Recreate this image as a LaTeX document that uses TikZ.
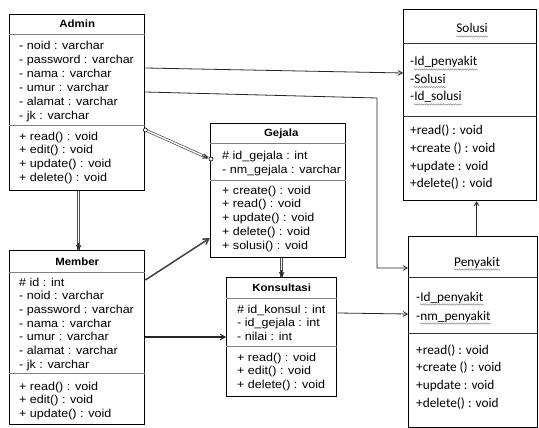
\documentclass[tikz,border=0pt]{standalone}
\usepackage{fontspec}
\setmainfont[FakeStretch=1.09]{Liberation Sans}
\newfontfamily\calibri{Carlito}
\usetikzlibrary{arrows}
\usetikzlibrary{calc}
\usetikzlibrary{decorations.pathmorphing}

\begin{document}
\begin{tikzpicture}[x=1pt,y=-1pt,
  umlbox/.style={draw,line width=1.4pt,anchor=north west,inner sep=0pt},
  rbox/.style={draw,line width=1.2pt,anchor=north west,inner sep=0pt},
  sepline/.style={black!50,line width=0.9pt},
  rsep/.style={black!80,line width=0.9pt},
  ctitle/.style={anchor=base,inner sep=0pt,font=\bfseries\fontsize{10.5}{13}\selectfont},
  cattr/.style={anchor=base west,inner sep=0pt,font=\fontsize{11.5}{13.8}\selectfont},
  rtitle/.style={anchor=base,inner sep=0pt,font=\calibri\fontsize{13.3}{16}\selectfont},
  rattr/.style={anchor=base west,inner sep=0pt,font=\calibri\fontsize{13.3}{16}\selectfont},
  squig/.style={black!45,line width=0.5pt,decorate,
    decoration={snake,amplitude=0.7pt,segment length=2.4pt}},
  conn/.style={->,>=angle 60,black!85,line width=0.8pt},
  dbl/.style={double,double distance=1.4pt,line width=0.7pt,draw=black!70},
  knob/.style={draw,fill=white,line width=0.6pt}]
\useasboundingbox (0,0) rectangle (539,428);

% Admin
\node[umlbox,minimum width=135pt,minimum height=176pt] (admin) at (9,14) {};
\node[ctitle] (admint) at ($(admin.north)+(0,14)$) {Admin};
\draw[sepline] ($(admin.north west)+(0,20)$) -- ($(admin.north east)+(0,20)$);
\draw[sepline] ($(admin.north west)+(0,111)$) -- ($(admin.north east)+(0,111)$);
\foreach \t [count=\i from 0] in {- noid : varchar, - password : varchar,
  - nama : varchar, - umur : varchar, - alamat : varchar, - jk : varchar} {
  \node[cattr] (adma\i) at (19,{50+14*\i}) {\t};
}
\foreach \t [count=\i from 0] in {+ read() : void, + edit() : void,
  + update() : void, + delete() : void} {
  \node[cattr] (admm\i) at (19,{140+13.7*\i}) {\t};
}

% Member
\node[umlbox,minimum width=135pt,minimum height=174pt] (member) at (9,250) {};
\node[ctitle] (membert) at ($(member.north)+(0,15)$) {Member};
\draw[sepline] ($(member.north west)+(0,22)$) -- ($(member.north east)+(0,22)$);
\draw[sepline] ($(member.north west)+(0,123)$) -- ($(member.north east)+(0,123)$);
\foreach \t [count=\i from 0] in {\# id : int, - noid : varchar, - password : varchar,
  - nama : varchar, - umur : varchar, - alamat : varchar, - jk : varchar} {
  \node[cattr] (mema\i) at (19,{286+13.67*\i}) {\t};
}
\foreach \t [count=\i from 0] in {+ read() : void, + edit() : void, + update() : void} {
  \node[cattr] (memm\i) at (19,{390+13.5*\i}) {\t};
}

% Gejala
\node[umlbox,minimum width=135pt,minimum height=134pt] (gejala) at (210,123) {};
\node[ctitle] (gejalat) at ($(gejala.north)+(3,14)$) {Gejala};
\draw[sepline] ($(gejala.north west)+(0,20)$) -- ($(gejala.north east)+(0,20)$);
\draw[sepline] ($(gejala.north west)+(0,57)$) -- ($(gejala.north east)+(0,57)$);
\foreach \t [count=\i from 0] in {\# id\_gejala : int, - nm\_gejala : varchar} {
  \node[cattr] (gja\i) at (222,{160+14*\i}) {\t};
}
\foreach \t [count=\i from 0] in {+ create() : void, + read() : void,
  + update() : void, + delete() : void, + solusi() : void} {
  \node[cattr] (gjm\i) at (222,{194+13.75*\i}) {\t};
}

% Konsultasi
\node[umlbox,minimum width=110pt,minimum height=119pt] (konsul) at (226,277) {};
\node[ctitle] (konsult) at ($(konsul.north)+(0,14.5)$) {Konsultasi};
\draw[sepline] ($(konsul.north west)+(0,21)$) -- ($(konsul.north east)+(0,21)$);
\draw[sepline] ($(konsul.north west)+(0,69)$) -- ($(konsul.north east)+(0,69)$);
\foreach \t [count=\i from 0] in {\# id\_konsul : int, - id\_gejala : int, - nilai : int} {
  \node[cattr] (ksa\i) at (237,{313+13.5*\i}) {\t};
}
\foreach \t [count=\i from 0] in {+ read() : void, + edit() : void, + delete() : void} {
  \node[cattr] (ksm\i) at (237,{361+13.5*\i}) {\t};
}

% Solusi
\node[rbox,minimum width=133pt,minimum height=191pt] (solusi) at (403,9) {};
\node[rtitle] (solusit) at ($(solusi.north)+(2,24)$) {Solusi};
\draw[rsep] ($(solusi.north west)+(0,34)$) -- ($(solusi.north east)+(0,34)$);
\draw[rsep] ($(solusi.north west)+(0,107)$) -- ($(solusi.north east)+(0,107)$);
\node[rattr] (sla0) at (410,66) {-Id\_penyakit};
\node[rattr] (sla1) at (410,83.5) {-Solusi};
\node[rattr] (sla2) at (410,101) {-Id\_solusi};
\foreach \t [count=\i from 0] in {+read() : void, +create () : void,
  +update : void, +delete() : void} {
  \node[rattr] (slm\i) at (410,{135+17.6*\i}) {\t};
}

% Penyakit
\node[rbox,minimum width=129pt,minimum height=191pt] (penyakit) at (408,236) {};
\node[rtitle] (penyakitt) at ($(penyakit.north)+(4,30)$) {Penyakit};
\draw[rsep] ($(penyakit.north west)+(0,41)$) -- ($(penyakit.north east)+(0,41)$);
\draw[rsep] ($(penyakit.north west)+(0,97)$) -- ($(penyakit.north east)+(0,97)$);
\node[rattr] (pya0) at (416,301) {-Id\_penyakit};
\node[rattr] (pya1) at (416,320) {-nm\_penyakit};
\foreach \t [count=\i from 0] in {+read() : void, +create () : void,
  +update : void, +delete() : void} {
  \node[rattr] (pym\i) at (416,{354+17.7*\i}) {\t};
}

% spell-check squiggles
\foreach \n in {solusit,penyakitt} {
  \draw[squig] ($(\n.base west)+(0,3.5)$) -- ($(\n.base east)+(0,3.5)$);
}
\foreach \n in {sla0,sla1,sla2,pya0,pya1} {
  \draw[squig] ($(\n.base west)+(4,3.5)$) -- ($(\n.base east)+(0,3.5)$);
}

% connectors
\draw[conn] ($(admin.north east)+(0,54)$) -- ($(solusi.north west)+(0,64)$);
\coordinate (bend) at (377,98);
\draw[conn] ($(admin.north east)+(0,78)$) -- (bend) |- ($(penyakit.north west)+(0,32)$);
\draw[dbl] ($(admin.north east)+(0,116)$) -- ($(gejala.north west)+(-2,35)$);
\draw[conn] ($(gejala.north west)+(-8,32.5)$) -- ($(gejala.north west)+(-2,35)$);
\draw[knob] ($(admin.north east)+(0,116)$) circle (2pt);
\draw[knob] ($(gejala.north west)+(1,36)$) circle (2pt);
\draw[dbl] ($(admin.south)+(1.5,0)$) -- ($(member.north)+(1.5,0)$);
\draw[conn] ($(member.north)+(1.5,-7)$) -- ($(member.north)+(1.5,0)$);
\draw[conn,line width=1.5pt,black!75] ($(member.north east)+(0,30)$) -- ($(gejala.north west)+(0,115)$);
\draw[conn,line width=1.1pt] ($(member.north east)+(0,87)$) -- ($(konsul.north west)+(0,60)$);
\draw[dbl] (konsul.north |- gejala.south) -- (konsul.north);
\draw[conn] ($(konsul.north)+(0,-7)$) -- (konsul.north);
\draw[conn] ($(konsul.north east)+(0,36)$) -- ($(penyakit.north west)+(0,78)$);
\draw[conn] ($(penyakit.north)+(3.5,0)$) -- ($(solusi.south)+(6.5,0)$);
\end{tikzpicture}
\end{document}
